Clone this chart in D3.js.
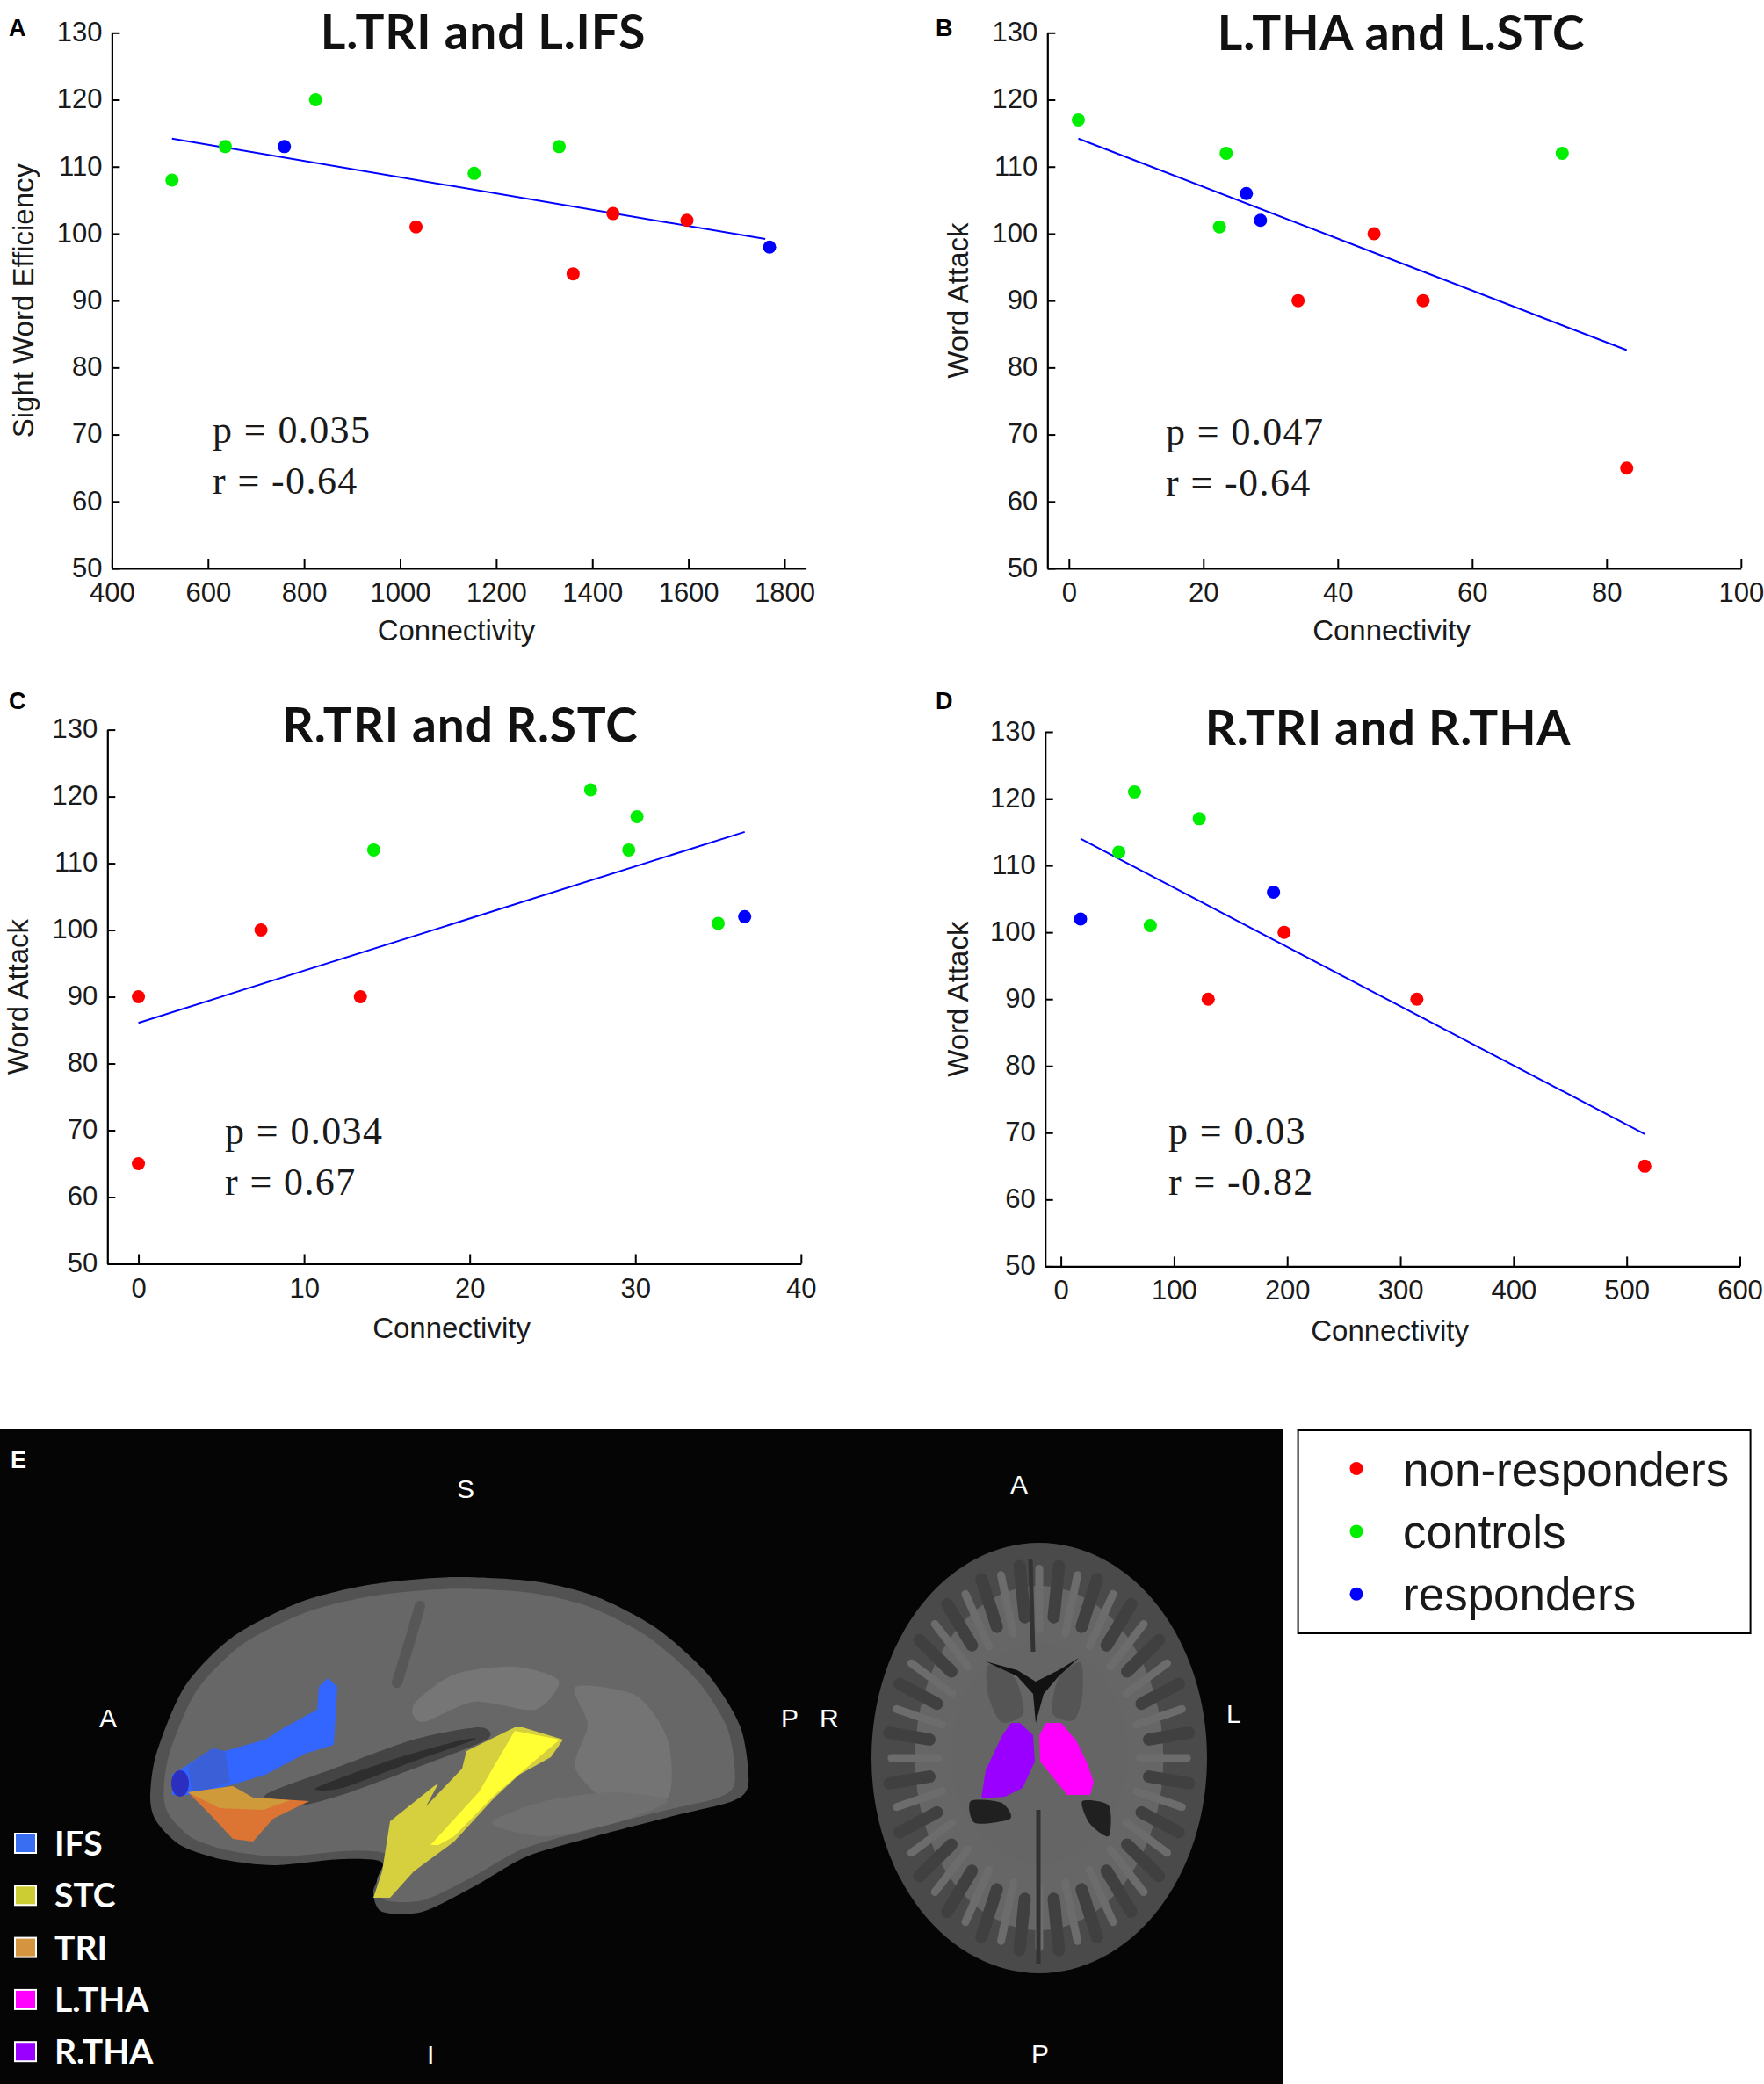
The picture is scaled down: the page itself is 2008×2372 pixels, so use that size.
<!DOCTYPE html>
<html><head><meta charset="utf-8">
<script src="https://cdn.jsdelivr.net/npm/d3@7"></script>
<style>body{margin:0;background:#fff}svg{display:block}</style>
</head><body>
<script>
// ---------- DATA ----------
const yTicks = [50, 60, 70, 80, 90, 100, 110, 120, 130];
const groupNames = ["non-responders", "controls", "responders"];

// Panel A: L.TRI and L.IFS
const aTitle = "L.TRI and L.IFS";
const aYLabel = "Sight Word Efficiency";
const aXTicks = [400, 600, 800, 1000, 1200, 1400, 1600, 1800];
const aX = [525, 636, 759, 824, 1033, 1154, 1331, 1360, 1443, 1597, 1769];
const aY = [108, 113, 113, 120, 101, 109, 113, 94, 103, 102, 98];
const aG = ["controls","controls","responders","controls","non-responders","controls","controls","non-responders","non-responders","non-responders","responders"];
const aFitX = [525, 1760];
const aFitY = [114.2, 99.2];
const aStats = ["p = 0.035", "r = -0.64"];

// Panel B: L.THA and L.STC
const bTitle = "L.THA and L.STC";
const bYLabel = "Word Attack";
const bXTicks = [0, 20, 40, 60, 80, 100];
const bX = [1.4, 23.4, 26.4, 28.5, 22.4, 45.4, 34.1, 52.7, 73.4, 83.0];
const bY = [117, 112, 106, 102, 101, 100, 90, 90, 112, 65];
const bG = ["controls","controls","responders","responders","controls","non-responders","non-responders","non-responders","controls","non-responders"];
const bFitX = [1.4, 83.0];
const bFitY = [114.2, 82.6];
const bStats = ["p = 0.047", "r = -0.64"];

// Panel C: R.TRI and R.STC
const cTitle = "R.TRI and R.STC";
const cYLabel = "Word Attack";
const cXTicks = [0, 10, 20, 30, 40];
const cX = [0, 0, 7.4, 13.4, 14.2, 27.3, 30.1, 29.6, 35.0, 36.6];
const cY = [90, 65, 100, 90, 112, 121, 117, 112, 101, 102];
const cG = ["non-responders","non-responders","non-responders","non-responders","controls","controls","controls","controls","controls","responders"];
const cFitX = [0, 36.6];
const cFitY = [86.1, 114.7];
const cStats = ["p = 0.034", "r = 0.67"];

// Panel D: R.TRI and R.THA
const dTitle = "R.TRI and R.THA";
const dYLabel = "Word Attack";
const dXTicks = [0, 100, 200, 300, 400, 500, 600];
const dX = [17.4, 51.2, 65.1, 79.0, 122.3, 130.2, 187.9, 197.3, 314.6, 516];
const dY = [102, 112, 121, 101, 117, 90, 106, 100, 90, 65];
const dG = ["responders","controls","controls","controls","controls","non-responders","responders","non-responders","non-responders","non-responders"];
const dFitX = [17.4, 516];
const dFitY = [114.0, 69.8];
const dStats = ["p = 0.03", "r = -0.82"];

// Panel E legend
const regionNames = ["IFS", "STC", "TRI", "L.THA", "R.THA"];

// ---------- STYLE ----------
const groupColor = {"non-responders": "#ff0000", "controls": "#00ee00", "responders": "#0000ff"};
const regionColor = {"IFS": "#3a6ef2", "STC": "#cccc33", "TRI": "#d49440", "L.THA": "#ff00ff", "R.THA": "#9900ff"};
const tickFont = "'Liberation Sans', Arial, sans-serif";
const titleFont = "Lato, 'Open Sans', sans-serif";
const serifFont = "'Liberation Serif', 'Times New Roman', serif";
const ink = "#1a1a1a";

const W = 2008, H = 2372;
const svg = d3.select("body").append("svg").attr("width", W).attr("height", H);
svg.append("rect").attr("width", W).attr("height", H).attr("fill", "#fff");

function panel(cfg) {
  const g = svg.append("g");
  const x = d3.scaleLinear().domain(cfg.xDomain).range([cfg.left, cfg.right]);
  const y = d3.scaleLinear().domain([50, 130]).range([cfg.bottom, cfg.top]);

  const xa = g.append("g").attr("transform", `translate(0,${cfg.bottom})`)
    .call(d3.axisBottom(x).tickValues(cfg.xTicks).tickFormat(d3.format("d"))
      .tickSizeInner(-11).tickSizeOuter(0).tickPadding(16));
  const ya = g.append("g").attr("transform", `translate(${cfg.left},0)`)
    .call(d3.axisLeft(y).tickValues(yTicks).tickFormat(d3.format("d"))
      .tickSizeInner(-9).tickSizeOuter(0).tickPadding(11));
  [xa, ya].forEach(a => {
    a.select(".domain").attr("stroke", "#000").attr("stroke-width", 2.2);
    a.selectAll(".tick line").attr("stroke", "#000").attr("stroke-width", 2);
    a.selectAll(".tick text").attr("font-family", tickFont).attr("font-size", 31).attr("fill", ink);
  });
  ya.selectAll(".tick text").attr("dy", "0.3em");

  g.append("text").attr("x", (cfg.left + cfg.right) / 2 - 3).attr("y", cfg.xLabelY)
    .attr("text-anchor", "middle").attr("font-family", tickFont).attr("font-size", 33)
    .attr("fill", ink).text("Connectivity");

  g.append("text").attr("transform", `translate(${cfg.yLabelX},${(cfg.top + cfg.bottom) / 2}) rotate(-90)`)
    .attr("text-anchor", "middle").attr("dy", "0.35em").attr("font-family", tickFont)
    .attr("font-size", 33).attr("fill", ink).text(cfg.yLabel);

  g.append("text").attr("x", cfg.titleX).attr("y", cfg.titleY).attr("text-anchor", "middle")
    .attr("font-family", titleFont).attr("font-weight", 700).attr("font-size", 55)
    .attr("letter-spacing", 0.8).attr("fill", "#111").text(cfg.title);

  g.append("text").attr("x", cfg.letterX).attr("y", cfg.letterY)
    .attr("font-family", tickFont).attr("font-weight", 700).attr("font-size", 27)
    .attr("fill", "#000").text(cfg.letter);

  cfg.stats.forEach((s, i) => {
    g.append("text").attr("x", cfg.statX).attr("y", cfg.statY + i * 58)
      .attr("font-family", serifFont).attr("font-size", 44).attr("letter-spacing", 1.4)
      .attr("fill", ink).attr("xml:space", "preserve").text(s);
  });

  const fit = cfg.fitX.map((v, i) => [v, cfg.fitY[i]]);
  g.append("path").datum(fit)
    .attr("d", d3.line().x(d => x(d[0])).y(d => y(d[1])))
    .attr("fill", "none").attr("stroke", "#0000ff").attr("stroke-width", 2);

  const pts = cfg.xs.map((v, i) => ({x: v, y: cfg.ys[i], g: cfg.gs[i]}));
  g.selectAll(".pt").data(pts).join("circle").attr("class", "pt")
    .attr("cx", d => x(d.x)).attr("cy", d => y(d.y)).attr("r", 7.5)
    .attr("fill", d => groupColor[d.g]);
}

panel({letter: "A", letterX: 10, letterY: 41, title: aTitle, titleX: 550, titleY: 56,
  yLabel: aYLabel, yLabelX: 26, xDomain: [400, 1845], xTicks: aXTicks,
  left: 127.4, right: 917.6, top: 37.3, bottom: 647, xLabelY: 729,
  xs: aX, ys: aY, gs: aG, fitX: aFitX, fitY: aFitY, stats: aStats, statX: 242, statY: 504});

panel({letter: "B", letterX: 1065, letterY: 41, title: bTitle, titleX: 1595, titleY: 57,
  yLabel: bYLabel, yLabelX: 1090, xDomain: [-3.2, 100], xTicks: bXTicks,
  left: 1192.3, right: 1981.8, top: 37.3, bottom: 647, xLabelY: 729,
  xs: bX, ys: bY, gs: bG, fitX: bFitX, fitY: bFitY, stats: bStats, statX: 1327, statY: 506});

panel({letter: "C", letterX: 10, letterY: 807, title: cTitle, titleX: 524, titleY: 845,
  yLabel: cYLabel, yLabelX: 20, xDomain: [-1.87, 40], xTicks: cXTicks,
  left: 122.3, right: 911.8, top: 830.6, bottom: 1438.5, xLabelY: 1523,
  xs: cX, ys: cY, gs: cG, fitX: cFitX, fitY: cFitY, stats: cStats, statX: 256, statY: 1302});

panel({letter: "D", letterX: 1065, letterY: 807, title: dTitle, titleX: 1580, titleY: 848,
  yLabel: dYLabel, yLabelX: 1090, xDomain: [-13.9, 600], xTicks: dXTicks,
  left: 1189.7, right: 1980.5, top: 833, bottom: 1441.4, xLabelY: 1526,
  xs: dX, ys: dY, gs: dG, fitX: dFitX, fitY: dFitY, stats: dStats, statX: 1330, statY: 1302});

// ---------- PANEL E (illustration) ----------
const e = svg.append("g");
e.append("rect").attr("x", 0).attr("y", 1627).attr("width", 1461).attr("height", 745).attr("fill", "#050505");

const closed = d3.line().curve(d3.curveCardinalClosed.tension(0.2));
const poly = d3.line().curve(d3.curveLinearClosed);

// lateral brain surface
const brainOutline = [[171,2046],[178,1996],[210,1920],[265,1863],[343,1823],[425,1803],[517,1795],[609,1800],[678,1817],[747,1853],[806,1906],[843,1966],[852,2030],[834,2050],[770,2066],[678,2090],[600,2113],[540,2147],[481,2176],[435,2176],[425,2153],[435,2120],[389,2116],[311,2123],[251,2116],[205,2100],[178,2073]];
e.append("path").attr("d", closed(brainOutline)).attr("fill", "#525252");
e.append("path").attr("d", closed(brainOutline)).attr("fill", "#676767")
  .attr("transform", "translate(512,1985) scale(0.955,0.93) translate(-512,-1985)");
// lighter gyri patches
e.append("path").attr("d", closed([[471,1940],[517,1906],[586,1897],[636,1913],[609,1946],[540,1937],[481,1960]])).attr("fill", "#767676");
e.append("path").attr("d", closed([[655,1920],[724,1930],[760,1980],[760,2046],[701,2056],[655,2013],[669,1963]])).attr("fill", "#747474");
e.append("path").attr("d", closed([[560,2075],[620,2050],[700,2040],[760,2050],[700,2075],[620,2090]])).attr("fill", "#6f6f6f");
// central sulcus
e.append("path").attr("d", d3.line().curve(d3.curveBasis)([[478,1828],[466,1870],[452,1915]]))
  .attr("fill", "none").attr("stroke", "#575757").attr("stroke-width", 12).attr("stroke-linecap", "round");
// sylvian fissure
e.append("path").attr("d", closed([[302,2043],[380,2013],[471,1980],[545,1966],[554,1980],[471,2013],[389,2043],[334,2056]])).attr("fill", "#444");
e.append("path").attr("d", closed([[360,2035],[440,2005],[520,1982],[540,1980],[470,2005],[390,2035]])).attr("fill", "#2e2e2e");

// regions (lateral)
e.append("path").attr("d", poly([[196,2020],[210,2011],[242,1990],[256,1993],[302,1980],[324,1966],[361,1946],[363,1920],[373,1910],[384,1920],[380,1986],[347,1996],[302,2020],[269,2030],[219,2043],[196,2043]]))
  .attr("fill", "#3366ff");
e.append("path").attr("d", poly([[214,2010],[242,1990],[256,1993],[262,2028],[219,2043]])).attr("fill", "#3a5fd6");
e.append("ellipse").attr("cx", 205).attr("cy", 2030).attr("rx", 10).attr("ry", 15).attr("fill", "#2a2fc0");
e.append("path").attr("d", poly([[214,2040],[265,2033],[288,2046],[352,2050],[311,2070],[288,2096],[265,2093],[237,2063]]))
  .attr("fill", "#dc7433");
e.append("path").attr("d", poly([[214,2040],[265,2033],[288,2046],[330,2049],[300,2060],[250,2058]]))
  .attr("fill", "#cf9a3a");
e.append("path").attr("d", poly([[425,2160],[435,2130],[444,2073],[494,2033],[499,2030],[485,2056],[526,2013],[531,1993],[586,1966],[595,1966],[641,1980],[627,2000],[591,2020],[563,2046],[517,2096],[471,2130],[444,2160]]))
  .attr("fill", "#d6d03e");
e.append("path").attr("d", poly([[490,2100],[545,2040],[586,1970],[637,1980],[563,2043],[517,2090],[499,2100]]))
  .attr("fill", "#ffff33");

// axial slice
const cx0 = 1183, cy0 = 2001, rx0 = 191, ry0 = 245;
e.append("ellipse").attr("cx", cx0).attr("cy", cy0).attr("rx", rx0).attr("ry", ry0).attr("fill", "#4a4a4a");
e.append("ellipse").attr("cx", cx0).attr("cy", cy0).attr("rx", rx0 * 0.74).attr("ry", ry0 * 0.8).attr("fill", "#666");
// white-matter fingers and sulci for texture
d3.range(0, 360, 15).forEach(a => {
  const t = a * Math.PI / 180, c = Math.cos(t), s = Math.sin(t);
  e.append("line").attr("x1", cx0 + rx0 * 0.6 * c).attr("y1", cy0 + ry0 * 0.6 * s)
    .attr("x2", cx0 + rx0 * 0.88 * c).attr("y2", cy0 + ry0 * 0.88 * s)
    .attr("stroke", "#6c6c6c").attr("stroke-width", 9).attr("stroke-linecap", "round");
  const t2 = (a + 7.5) * Math.PI / 180, c2 = Math.cos(t2), s2 = Math.sin(t2);
  e.append("line").attr("x1", cx0 + rx0 * 0.66 * c2).attr("y1", cy0 + ry0 * 0.66 * s2)
    .attr("x2", cx0 + rx0 * 0.9 * c2).attr("y2", cy0 + ry0 * 0.9 * s2)
    .attr("stroke", "#404040").attr("stroke-width", 14).attr("stroke-linecap", "round");
});
e.append("ellipse").attr("cx", cx0).attr("cy", cy0 - 5).attr("rx", 100).attr("ry", 125).attr("fill", "#656565");
// midline
e.append("line").attr("x1", 1173).attr("y1", 1775).attr("x2", 1176).attr("y2", 1880).attr("stroke", "#333").attr("stroke-width", 5);
e.append("line").attr("x1", 1182).attr("y1", 2060).attr("x2", 1182).attr("y2", 2235).attr("stroke", "#333").attr("stroke-width", 5);
// caudate and ventricles
e.append("path").attr("d", closed([[1125,1895],[1155,1910],[1165,1950],[1140,1960],[1125,1930]])).attr("fill", "#555");
e.append("path").attr("d", closed([[1230,1892],[1205,1910],[1198,1950],[1222,1958],[1232,1930]])).attr("fill", "#555");
e.append("path").attr("d", poly([[1122,1891],[1158,1908],[1176,1928],[1179,1961],[1188,1928],[1205,1908],[1228,1887],[1205,1901],[1179,1914],[1158,1901]])).attr("fill", "#121212");
e.append("path").attr("d", closed([[1105,2050],[1140,2052],[1150,2070],[1110,2075]])).attr("fill", "#202020");
e.append("path").attr("d", closed([[1232,2050],[1262,2055],[1262,2090],[1240,2075]])).attr("fill", "#202020");
e.append("path").attr("d", poly([[1117,2047],[1122,2015],[1141,1975],[1151,1961],[1161,1961],[1176,1975],[1178,2005],[1164,2035],[1144,2045]]))
  .attr("fill", regionColor["R.THA"]);
e.append("path").attr("d", poly([[1183,1975],[1191,1961],[1208,1961],[1225,1981],[1238,2008],[1245,2028],[1241,2043],[1215,2043],[1184,2005]]))
  .attr("fill", regionColor["L.THA"]);

// orientation letters
const orient = [["E",12,1671,"bold"],["S",520,1705,"normal"],["A",113,1966,"normal"],["P",889,1966,"normal"],["R",933,1966,"normal"],["I",486,2349,"normal"],["A",1150,1700,"normal"],["L",1396,1961,"normal"],["P",1174,2348,"normal"]];
orient.forEach(o => e.append("text").attr("x", o[1]).attr("y", o[2]).attr("fill", "#fff")
  .attr("font-family", tickFont).attr("font-weight", o[3] === "bold" ? 700 : 400)
  .attr("font-size", o[3] === "bold" ? 27 : 30).text(o[0]));

regionNames.forEach((n, i) => {
  const cy = 2098 + i * 59.3;
  e.append("rect").attr("x", 17).attr("y", cy - 11).attr("width", 24).attr("height", 22)
    .attr("fill", regionColor[n]).attr("stroke", "#fff").attr("stroke-width", 2);
  e.append("text").attr("x", 62).attr("y", cy + 14).attr("fill", "#fff")
    .attr("font-family", titleFont).attr("font-weight", 700).attr("font-size", 39).text(n);
});

// group legend box
const lg = svg.append("g");
lg.append("rect").attr("x", 1477.6).attr("y", 1628).attr("width", 515).attr("height", 231)
  .attr("fill", "#fff").attr("stroke", "#000").attr("stroke-width", 2);
groupNames.forEach((n, i) => {
  const cy = 1671.5 + i * 71.4;
  lg.append("circle").attr("cx", 1544).attr("cy", cy).attr("r", 7.5).attr("fill", groupColor[n]);
  lg.append("text").attr("x", 1597).attr("y", cy + 19).attr("font-family", tickFont)
    .attr("font-size", 53).attr("fill", ink).text(n);
});
</script>
</body></html>
